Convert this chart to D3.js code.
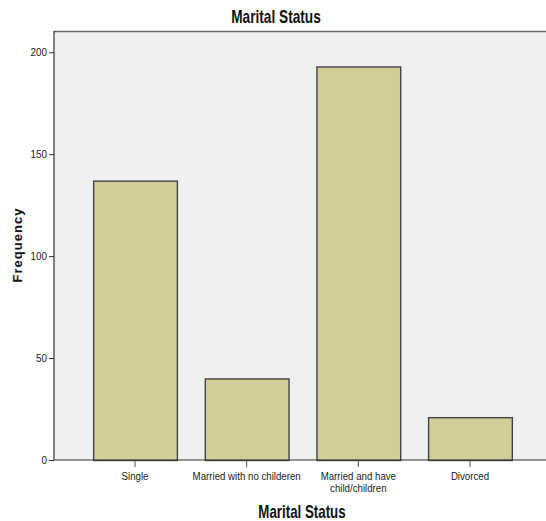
<!DOCTYPE html>
<html><head><meta charset="utf-8">
<script src="https://cdn.jsdelivr.net/npm/d3@7"></script>
<style>body{margin:0;background:#fff}svg{display:block}</style>
</head><body>
<script>
const categories = ["Single", "Married with no childeren", "Married and have child/children", "Divorced"];
const frequencies = [137, 40, 193, 21];
const yTicks = [0, 50, 100, 150, 200];
const titleText = "Marital Status";
const xTitle = "Marital Status";
const yTitle = "Frequency";

const W = 546, H = 521;
const plot = {left: 54, right: 546, top: 31, bottom: 460};
const svg = d3.select("body").append("svg").attr("width", W).attr("height", H);
const font = "'Liberation Sans',Arial,sans-serif";
const labelScale = 0.88;

svg.append("rect").attr("x", plot.left).attr("y", plot.top)
  .attr("width", plot.right - plot.left).attr("height", plot.bottom - plot.top)
  .attr("fill", "#f0f0f0");
svg.append("line").attr("x1", plot.left).attr("x2", plot.right)
  .attr("y1", plot.top + 0.5).attr("y2", plot.top + 0.5)
  .attr("stroke", "#6b6b6b").attr("stroke-width", 1.5);

const y = d3.scaleLinear().domain([0, 210.4]).range([plot.bottom, plot.top]);
const x = d3.scaleBand().domain(categories).range([79.2, 525.8])
  .paddingInner(0.25).paddingOuter(0.125);

svg.append("g").selectAll("rect").data(categories).join("rect")
  .attr("x", d => x(d) + 0.5)
  .attr("y", (d, i) => y(frequencies[i]) + 0.5)
  .attr("width", x.bandwidth())
  .attr("height", (d, i) => y(0) - y(frequencies[i]))
  .attr("fill", "#d3ce97")
  .attr("stroke", "#444").attr("stroke-width", 1.4);

// y axis
const yAxis = svg.append("g").attr("transform", `translate(${plot.left},0)`)
  .call(d3.axisLeft(y).tickValues(yTicks).tickSize(5).tickPadding(2));
yAxis.select(".domain").remove();
yAxis.selectAll(".tick line").attr("stroke", "#333");
yAxis.selectAll("text").attr("font-family", font).attr("font-size", 11.5).attr("fill", "#222")
  .attr("x", null)
  .attr("transform", `translate(-7,0) scale(0.86,1)`);
svg.append("line").attr("x1", plot.left).attr("x2", plot.left)
  .attr("y1", plot.top).attr("y2", plot.bottom).attr("stroke", "#333").attr("stroke-width", 1.2);

// x axis
const xAxis = svg.append("g").attr("transform", `translate(0,${plot.bottom})`)
  .call(d3.axisBottom(x).tickSize(7).tickPadding(4).tickFormat(""));
xAxis.select(".domain").remove();
xAxis.selectAll(".tick line").attr("stroke", "#555");
svg.append("line").attr("x1", plot.left).attr("x2", plot.right)
  .attr("y1", plot.bottom).attr("y2", plot.bottom).attr("stroke", "#333").attr("stroke-width", 1.2);

const labelLines = {"Married and have child/children": ["Married and have", "child/children"]};
categories.forEach(c => {
  const lines = labelLines[c] || [c];
  const cx = x(c) + x.bandwidth() / 2;
  const t = svg.append("text").attr("transform", `translate(${cx},480) scale(${labelScale},1)`)
    .attr("text-anchor", "middle").attr("font-family", font).attr("font-size", 11).attr("fill", "#222");
  lines.forEach((l, i) => t.append("tspan").attr("x", 0).attr("dy", i ? 12 : 0).text(l));
});

svg.append("text").attr("transform", "translate(276,23) scale(0.76,1)").attr("text-anchor", "middle")
  .attr("font-family", font).attr("font-weight", "bold").attr("font-size", 18).attr("fill", "#111")
  .text(titleText);
svg.append("text").attr("transform", "translate(302,518) scale(0.74,1)").attr("text-anchor", "middle")
  .attr("font-family", font).attr("font-weight", "bold").attr("font-size", 18).attr("fill", "#111")
  .text(xTitle);
svg.append("text").attr("transform", "translate(22,245) rotate(-90)").attr("text-anchor", "middle")
  .attr("font-family", font).attr("font-weight", "bold").attr("font-size", 13)
  .attr("letter-spacing", 1).attr("fill", "#111").text(yTitle);
</script>
</body></html>
